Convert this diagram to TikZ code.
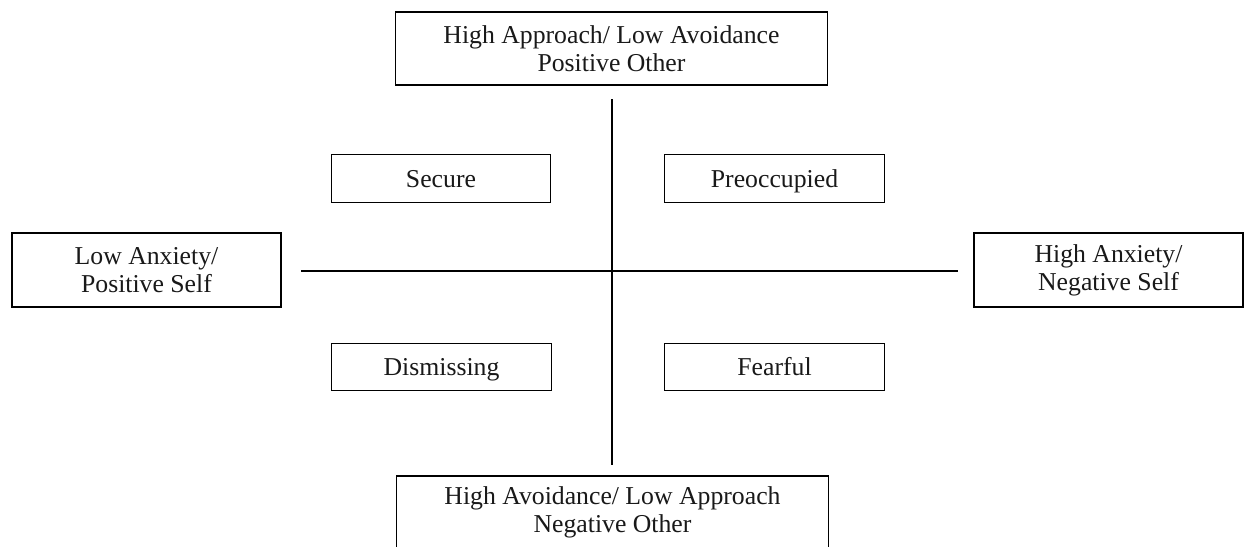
\documentclass[tikz,border=0pt]{standalone}
\usepackage{fontspec}
\setmainfont{Liberation Serif}
\begin{document}
\begin{tikzpicture}[x=0.75pt,y=-0.75pt,
  box/.style={draw=black,line width=0.95pt,rectangle,inner sep=0pt,align=center,
    font=\fontsize{19.3}{21}\selectfont,text=black!90},
  smallbox/.style={box,minimum width=164.5pt,minimum height=35.5pt,text height=13pt,text depth=0pt},
  sidebox/.style={box,minimum width=201.75pt,minimum height=55.5pt},
  widebox/.style={box,minimum width=324pt,minimum height=54.75pt},
  axis/.style={draw=black,line width=0.8pt}]
\clip (0,0) rectangle (1249,546);
\fill[white] (0,0) rectangle (1249,546);
\node[widebox] (top) at (611.5,48.5) {High Approach/ Low Avoidance\\Positive Other};
\node[widebox] (bottom) at (612.5,512.5) {High Avoidance/ Low Approach\\Negative Other};
\node[sidebox] (left) at (146.5,270) {Low Anxiety/\\Positive Self};
\node[sidebox] (right) at (1108.5,270) {High Anxiety/\\Negative Self};
\node[smallbox] (secure) at (441,178.5) {Secure};
\node[smallbox] (preocc) at (774.5,178.5) {Preoccupied};
\node[smallbox] (dismiss) at (441.5,367) {Dismissing};
\node[smallbox] (fearful) at (774.5,367) {Fearful};
\coordinate (vtop) at (612,99);
\coordinate (vbot) at (612,465);
\coordinate (hleft) at (301,271);
\coordinate (hright) at (958,271);
\draw[axis] (vtop) -- (vbot);
\draw[axis] (hleft) -- (hright);
\end{tikzpicture}
\end{document}
